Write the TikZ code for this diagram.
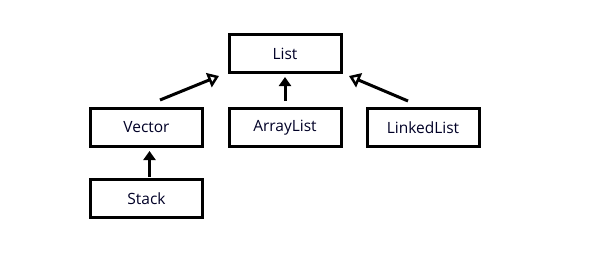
\documentclass[tikz,border=0pt]{standalone}
\usepackage{fontspec}
\setmainfont{Open Sans}
\usetikzlibrary{arrows.meta}
\begin{document}
\begin{tikzpicture}[x=1pt,y=-1pt,
  cls/.style={draw,line width=3pt,minimum width=112pt,minimum height=38pt,inner sep=0pt,font=\fontsize{15.5}{18}\selectfont,text=black!85!blue},
  filledarr/.style={line width=3pt,-{Triangle[length=9pt,width=12pt]}},
  openarr/.style={line width=3pt,-{Triangle[open,length=11pt,width=15pt,line width=2.5pt]}}]
\useasboundingbox (0,0) rectangle (594,255);
\node[cls] (list) at (285,53.5) {List};
\node[cls] (vector) at (146.5,127.5) {Vector};
\node[cls] (arraylist) at (285,127.5) {ArrayList};
\node[cls] (linkedlist) at (423,127.5) {LinkedList};
\node[cls] (stack) at (146.5,198.5) {Stack};
\coordinate (v1) at (160,100);
\coordinate (v2) at (219,76);
\coordinate (l1) at (408,101);
\coordinate (l2) at (349,76);
\draw[openarr] (v1) -- (v2);
\draw[openarr] (l1) -- (l2);
\draw[filledarr] (arraylist.north) ++(0,-6) -- ([yshift=-3pt]list.south);
\draw[filledarr] (stack.north) ++(3,-1) -- ++(0,-26);
\end{tikzpicture}
\end{document}
